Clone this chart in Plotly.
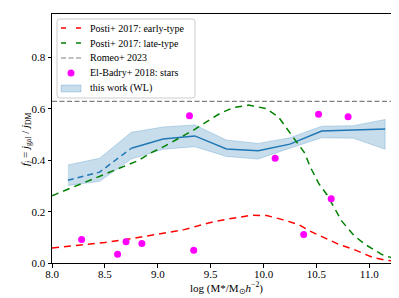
import plotly.graph_objects as go

# Posti+ 2017 early-type
early_x = [8.0, 8.25, 8.5, 8.75, 9.0, 9.25, 9.48, 9.67, 9.89, 10.03, 10.18, 10.33, 10.43, 10.59, 10.71, 10.87, 11.03, 11.15, 11.3]
early_y = [0.058, 0.069, 0.08, 0.095, 0.112, 0.13, 0.156, 0.172, 0.186, 0.185, 0.169, 0.15, 0.126, 0.094, 0.073, 0.05, 0.022, 0.011, 0.004]

# Posti+ 2017 late-type
late_x = [8.0, 8.1, 8.4, 8.69, 8.82, 8.94, 9.07, 9.2, 9.34, 9.46, 9.59, 9.72, 9.86, 10.02, 10.14, 10.22, 10.31, 10.39, 10.44, 10.52, 10.6, 10.74, 10.86, 10.97, 11.12, 11.3]
late_y = [0.262, 0.279, 0.327, 0.376, 0.40, 0.43, 0.456, 0.486, 0.518, 0.55, 0.583, 0.606, 0.615, 0.602, 0.57, 0.524, 0.475, 0.428, 0.376, 0.311, 0.266, 0.163, 0.105, 0.07, 0.033, 0.008]

# Romeo+ 2023
romeo_x = [8.0, 11.3]
romeo_y = [0.63, 0.63]

# El-Badry+ 2018 stars
elb_x = [8.28, 8.62, 8.70, 8.85, 9.30, 9.34, 10.11, 10.38, 10.52, 10.64, 10.80]
elb_y = [0.092, 0.034, 0.083, 0.076, 0.574, 0.05, 0.408, 0.111, 0.579, 0.25, 0.57]

# this work (WL)
wl_x = [8.15, 8.45, 8.75, 9.05, 9.35, 9.65, 9.95, 10.25, 10.55, 10.85, 11.15]
wl_y = [0.322, 0.354, 0.447, 0.483, 0.495, 0.444, 0.437, 0.463, 0.514, 0.518, 0.522]
wl_hi = [0.382, 0.408, 0.509, 0.53, 0.538, 0.479, 0.466, 0.488, 0.533, 0.535, 0.559]
wl_lo = [0.302, 0.318, 0.405, 0.443, 0.453, 0.415, 0.405, 0.447, 0.488, 0.486, 0.443]
n_dashed = 3

x_ticks = [8.0, 8.5, 9.0, 9.5, 10.0, 10.5, 11.0]
y_ticks = [0.0, 0.2, 0.4, 0.6, 0.8]

legend_labels = ["Posti+ 2017: early-type", "Posti+ 2017: late-type", "Romeo+ 2023",
                 "El-Badry+ 2018: stars", "this work (WL)"]
x_title = "log (M*/M<sub>⊙</sub><i>h</i><sup>−2</sup>)"
y_title = "<i>f</i><sub><i>j</i></sub> = <i>j</i><sub>gal</sub> / <i>j</i><sub>DM</sub>"

FONT = "Liberation Serif"
C0 = "#1f77b4"
RED, GREEN, GRAY, MAG = "#ff0000", "#008000", "#808080", "#ff00ff"

W, H = 399, 298
ML, MR, MT, MB = 44, 6, 6, 43
PW, PH = W - ML - MR, H - MT - MB


def px(x):
    return (x - ML) / PW


def py(y):
    return (H - MB - y) / PH


fig = go.Figure()

fig.add_trace(go.Scatter(
    x=wl_x + wl_x[::-1], y=wl_hi + wl_lo[::-1], fill="toself",
    fillcolor="rgba(31,119,180,0.25)", line=dict(color="rgba(31,119,180,0.3)", width=0.8),
    mode="lines", name=legend_labels[4], hoverinfo="skip"))
fig.add_trace(go.Scatter(
    x=wl_x[:n_dashed], y=wl_y[:n_dashed], mode="lines",
    line=dict(color=C0, width=1.5, dash="6px,4px")))
fig.add_trace(go.Scatter(
    x=wl_x[n_dashed - 1:], y=wl_y[n_dashed - 1:], mode="lines",
    line=dict(color=C0, width=1.5)))
fig.add_trace(go.Scatter(
    x=early_x, y=early_y, mode="lines", name=legend_labels[0],
    line=dict(color=RED, width=1.5, dash="7px,5px")))
fig.add_trace(go.Scatter(
    x=late_x, y=late_y, mode="lines", name=legend_labels[1],
    line=dict(color=GREEN, width=1.5, dash="7px,5px")))
fig.add_trace(go.Scatter(
    x=romeo_x, y=romeo_y, mode="lines", name=legend_labels[2],
    line=dict(color=GRAY, width=1.2, dash="5px,2.5px")))
fig.add_trace(go.Scatter(
    x=elb_x, y=elb_y, mode="markers", name=legend_labels[3],
    marker=dict(color=MAG, size=7)))

# ---- hand-built legend (matplotlib-style compact spacing) ----
lx0, lx1, ly0, ly1, rr = 49, 187, 11, 90, 3
row_y = [20, 35, 50, 65, 80.5]
g0, g1, tx = 53, 73, 80


def P(x, y):
    return f"{px(x):.5f},{py(y):.5f}"


frame_path = (f"M {P(lx0 + rr, ly0)} L {P(lx1 - rr, ly0)} Q {P(lx1, ly0)} {P(lx1, ly0 + rr)} "
              f"L {P(lx1, ly1 - rr)} Q {P(lx1, ly1)} {P(lx1 - rr, ly1)} "
              f"L {P(lx0 + rr, ly1)} Q {P(lx0, ly1)} {P(lx0, ly1 - rr)} "
              f"L {P(lx0, ly0 + rr)} Q {P(lx0, ly0)} {P(lx0 + rr, ly0)} Z")
shapes = [dict(type="path", xref="paper", yref="paper", path=frame_path,
               line=dict(color="#cccccc", width=1), fillcolor="rgba(255,255,255,0.8)",
               layer="above")]
glyph_styles = [(RED, 1.5, "5px,10px"), (GREEN, 1.5, "5px,10px"), (GRAY, 1.2, "5px,2.5px")]
for (col, w, d), yy in zip(glyph_styles, row_y[:3]):
    shapes.append(dict(type="line", xref="paper", yref="paper",
                       x0=px(g0), x1=px(g1), y0=py(yy), y1=py(yy),
                       line=dict(color=col, width=w, dash=d), layer="above"))
mx = (g0 + g1) / 2
shapes.append(dict(type="circle", xref="paper", yref="paper",
                   x0=px(mx - 3.5), x1=px(mx + 3.5), y0=py(row_y[3] + 3.5), y1=py(row_y[3] - 3.5),
                   fillcolor=MAG, line=dict(width=0), layer="above"))
shapes.append(dict(type="rect", xref="paper", yref="paper",
                   x0=px(g0), x1=px(g1), y0=py(row_y[4] + 3.5), y1=py(row_y[4] - 3.5),
                   fillcolor="rgba(31,119,180,0.25)", line=dict(color="rgba(31,119,180,0.3)", width=0.8),
                   layer="above"))
annotations = [dict(text=t, xref="paper", yref="paper", x=px(tx), y=py(yy),
                    xanchor="left", yanchor="middle", showarrow=False,
                    font=dict(family=FONT, size=10, color="black"))
               for t, yy in zip(legend_labels, row_y)]

# axis titles placed as annotations for precise positioning
annotations.append(dict(text=x_title, xref="paper", yref="paper", x=px(218), y=py(279.5),
                        xanchor="center", yanchor="middle", showarrow=False,
                        font=dict(family=FONT, size=11, color="black")))
annotations.append(dict(text=y_title, xref="paper", yref="paper", x=px(18), y=py(131),
                        xanchor="center", yanchor="middle", showarrow=False, textangle=-90,
                        font=dict(family=FONT, size=11, color="black")))

axis_common = dict(
    showline=True, mirror=True, linecolor="black", linewidth=1,
    ticks="outside", ticklen=3.5, tickwidth=1, tickcolor="black",
    showgrid=False, zeroline=False,
    tickfont=dict(family=FONT, size=11, color="black"),
)

fig.update_xaxes(range=[8.0, 11.3], tickvals=x_ticks,
                 ticktext=[f"{v:.1f}" for v in x_ticks], ticklabelstandoff=-3,
                 **axis_common)
fig.update_yaxes(range=[0, 0.97], tickvals=y_ticks,
                 ticktext=[f"{v:.1f}" for v in y_ticks],
                 **axis_common)

fig.update_layout(
    width=W, height=H,
    margin=dict(l=ML, r=MR, t=MT, b=MB),
    plot_bgcolor="white", paper_bgcolor="white",
    font=dict(family=FONT, size=10, color="black"),
    showlegend=False,
    shapes=shapes, annotations=annotations,
)

fig.write_html("out.html")
